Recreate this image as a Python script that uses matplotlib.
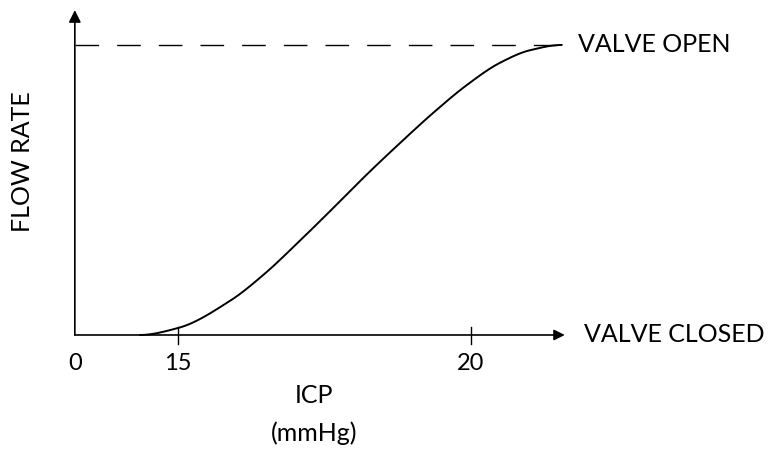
import numpy as np
import matplotlib.pyplot as plt

# ICP (mmHg) vs relative flow rate
icp = [14.35, 15.0, 15.89, 16.45, 17.08, 17.65, 18.23, 18.79, 19.35, 19.93, 20.49, 21.01, 21.55]
flow = [0.0, 0.024, 0.118, 0.206, 0.325, 0.438, 0.555, 0.662, 0.765, 0.862, 0.938, 0.982, 1.0]
tick_vals = [15, 20]
tick_labels = ['15', '20']

origin_x = 13.24
x_end = 21.6
y_top = 1.12


def pchip(x, y, xs):
    # monotone cubic (Fritsch-Carlson) so the S-curve stays smooth
    x = np.asarray(x, float)
    y = np.asarray(y, float)
    h = np.diff(x)
    d = np.diff(y) / h
    m = np.zeros_like(y)
    for i in range(1, len(y) - 1):
        if d[i - 1] * d[i] > 0:
            w1 = 2 * h[i] + h[i - 1]
            w2 = h[i] + 2 * h[i - 1]
            m[i] = (w1 + w2) / (w1 / d[i - 1] + w2 / d[i])
    idx = np.clip(np.searchsorted(x, xs) - 1, 0, len(x) - 2)
    t = (xs - x[idx]) / h[idx]
    h00 = 2 * t**3 - 3 * t**2 + 1
    h10 = t**3 - 2 * t**2 + t
    h01 = -2 * t**3 + 3 * t**2
    h11 = t**3 - t**2
    return h00 * y[idx] + h10 * h[idx] * m[idx] + h01 * y[idx + 1] + h11 * h[idx] * m[idx + 1]


plt.rcParams['font.family'] = ['Lato', 'DejaVu Sans']

fig = plt.figure(figsize=(7.83, 4.51), dpi=100)
ax = fig.add_axes([0, 0, 1, 1])
ax.set_xlim(11.963, 25.324)
ax.set_ylim(-0.4, 1.155)
ax.axis('off')

xs = np.linspace(icp[0], icp[-1], 400)
ax.plot(xs, pchip(icp, flow, xs), color='black', lw=1.4, solid_capstyle='round')

# axes with arrow heads
ax.annotate('', xy=(x_end, 0), xytext=(origin_x, 0),
            arrowprops=dict(arrowstyle='-|>', color='black', lw=1.2, mutation_scale=16,
                            shrinkA=0, shrinkB=0))
ax.annotate('', xy=(origin_x, y_top), xytext=(origin_x, 0),
            arrowprops=dict(arrowstyle='-|>', color='black', lw=1.2, mutation_scale=18,
                            shrinkA=0, shrinkB=0))

# valve open level
ax.plot([origin_x, icp[-1]], [1.0, 1.0], color='black', lw=1.0, dashes=(17, 13))

for t, lab in zip(tick_vals, tick_labels):
    ax.plot([t, t], [-0.03, 0.028], color='black', lw=1.0)
    ax.text(t, -0.097, lab, ha='center', va='center', fontsize=17)
ax.text(origin_x, -0.097, '0', ha='center', va='center', fontsize=17)

ax.text(17.32, -0.21, 'ICP', ha='center', va='center', fontsize=18)
ax.text(17.32, -0.338, '(mmHg)', ha='center', va='center', fontsize=18)
ax.text(12.34, 0.597, 'FLOW RATE', ha='center', va='center', rotation=90, fontsize=18)

ax.text(21.83, 1.0, 'VALVE OPEN', ha='left', va='center', fontsize=18)
ax.text(21.92, 0.0, 'VALVE CLOSED', ha='left', va='center', fontsize=18)

fig.savefig('out.png', dpi=100)
